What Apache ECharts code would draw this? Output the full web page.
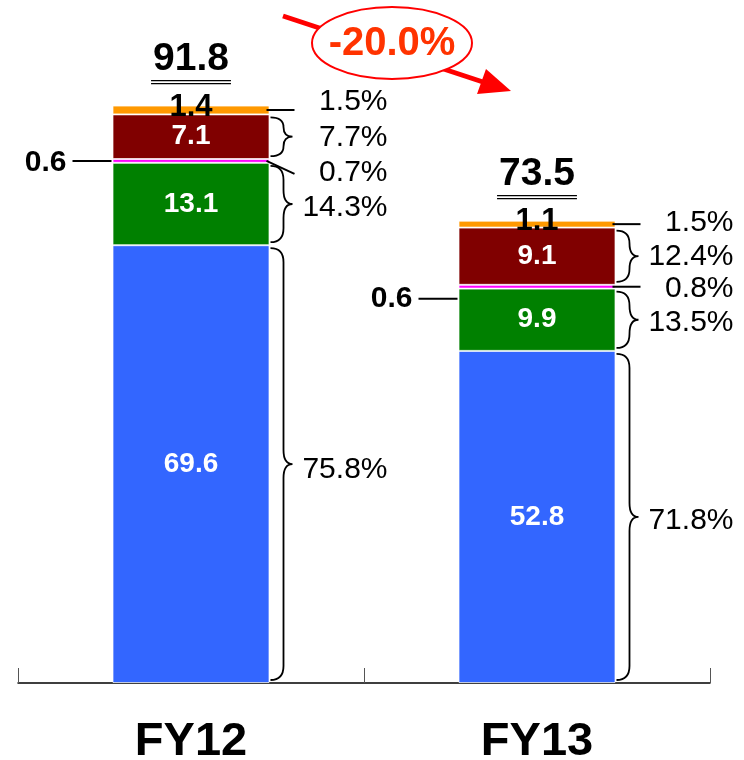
<!DOCTYPE html>
<html lang="en">
<head>
<meta charset="utf-8">
<title>FY12 / FY13</title>
<script src="https://cdn.jsdelivr.net/npm/echarts@6/dist/echarts.min.js"></script>
<style>
    html, body { height: 100%; margin: 0; background: #fff; }
    #main { width: 744px; height: 760px; }
</style>
</head>
<body>
<div id="main"></div>
<script>
    // data
    var categories = ['FY12', 'FY13'];
    var blueValues = [69.6, 52.8];
    var greenValues = [13.1, 9.9];
    var magentaValues = [0.6, 0.6];
    var redValues = [7.1, 9.1];
    var orangeValues = [1.4, 1.1];
    var totals = [91.8, 73.5];
    var blueShare = ['75.8%', '71.8%'];
    var greenShare = ['14.3%', '13.5%'];
    var magentaShare = ['0.7%', '0.8%'];
    var redShare = ['7.7%', '12.4%'];
    var orangeShare = ['1.5%', '1.5%'];
    var changeText = '-20.0%';

    var FONT = '"Liberation Sans", Arial, sans-serif';
    var BAR_W = 157;

    // stack order bottom -> top, with how each segment is annotated on the right
    var segments = [
        { values: blueValues, share: blueShare, kind: 'brace', labelDy: [6, 4] },
        { values: greenValues, share: greenShare, kind: 'brace', labelDy: [4, 3] },
        { values: magentaValues, share: magentaShare, kind: 'line', labelDy: [12, 2], endDy: [13, 0], leftDy: [0, 12] },
        { values: redValues, share: redShare, kind: 'brace', labelDy: [1, 1] },
        { values: orangeValues, share: orangeShare, kind: 'line', labelDy: [-8, -1], endDy: [0, 0] }
    ];

    // annotation items: [categoryIndex, low, high] + meta
    var annoData = [];
    var annoMeta = [];
    categories.forEach(function (c, i) {
        var base = 0;
        segments.forEach(function (s) {
            var v = s.values[i];
            annoData.push([i, base, base + v]);
            annoMeta.push({
                text: s.share[i], kind: s.kind,
                labelDy: s.labelDy[i],
                endDy: s.endDy ? s.endDy[i] : 0,
                leftDy: s.leftDy ? s.leftDy[i] : null
            });
            base += v;
        });
    });

    function bracePath(x, y0, y1, d, w) {
        var ym = (y0 + y1) / 2;
        var r = Math.min(14, (y1 - y0) / 4);
        return 'M' + x + ',' + y0 +
            ' Q' + (x + d) + ',' + y0 + ' ' + (x + d) + ',' + (y0 + r) +
            ' L' + (x + d) + ',' + (ym - r) +
            ' Q' + (x + d) + ',' + ym + ' ' + (x + w) + ',' + ym +
            ' Q' + (x + d) + ',' + ym + ' ' + (x + d) + ',' + (ym + r) +
            ' L' + (x + d) + ',' + (y1 - r) +
            ' Q' + (x + d) + ',' + y1 + ' ' + x + ',' + y1;
    }

    function renderAnno(params, api) {
        var meta = annoMeta[params.dataIndex];
        var idx = api.value(0);
        var pLow = api.coord([idx, api.value(1)]);
        var pHigh = api.coord([idx, api.value(2)]);
        var xr = pLow[0] + BAR_W / 2;
        var xl = pLow[0] - BAR_W / 2;
        var yTop = pHigh[1], yBot = pLow[1], yMid = (yTop + yBot) / 2;
        var children = [];
        if (meta.kind === 'brace') {
            children.push({
                type: 'path',
                shape: { pathData: bracePath(xr + 1, yTop + 3, yBot - 3, 13, 22) },
                style: { fill: null, stroke: '#000', lineWidth: 1.8 }
            });
        } else {
            children.push({
                type: 'line',
                shape: { x1: xr - 3, y1: yMid, x2: xr + 25, y2: yMid + meta.endDy },
                style: { stroke: '#000', lineWidth: 2 }
            });
        }
        if (meta.leftDy !== null) {
            children.push({
                type: 'line',
                shape: { x1: xl - 40, y1: yMid + meta.leftDy, x2: xl - 1, y2: yMid + meta.leftDy },
                style: { stroke: '#000', lineWidth: 2 }
            });
        }
        children.push({
            type: 'text',
            style: {
                text: meta.text, x: xr + 118, y: yMid + meta.labelDy,
                textAlign: 'right', textVerticalAlign: 'middle',
                align: 'right', verticalAlign: 'middle',
                font: '30px ' + FONT, fill: '#000'
            }
        });
        return { type: 'group', children: children };
    }

    var measureCtx = document.createElement('canvas').getContext('2d');
    function renderTotal(params, api) {
        var p = api.coord([api.value(0), api.value(1)]);
        var txt = api.value(1).toFixed(1);
        var font = 'bold 39px ' + FONT;
        measureCtx.font = font;
        var w = measureCtx.measureText(txt).width + 4;
        var yu = p[1] - 25;
        return {
            type: 'group',
            children: [
                {
                    type: 'text',
                    style: {
                        text: txt, x: p[0], y: p[1] - 46,
                        textAlign: 'center', textVerticalAlign: 'middle',
                        align: 'center', verticalAlign: 'middle',
                        font: font, fill: '#000'
                    }
                },
                { type: 'line', shape: { x1: p[0] - w / 2, y1: yu, x2: p[0] + w / 2, y2: yu }, style: { stroke: '#000', lineWidth: 1.3 } },
                { type: 'line', shape: { x1: p[0] - w / 2, y1: yu + 3, x2: p[0] + w / 2, y2: yu + 3 }, style: { stroke: '#000', lineWidth: 1.3 } }
            ]
        };
    }

    function barSeries(name, values, color, label) {
        return {
            name: name,
            type: 'bar',
            stack: 'total',
            barWidth: BAR_W,
            data: values,
            itemStyle: { color: color, borderColor: 'rgba(255,255,255,0.7)', borderWidth: 1 },
            label: label
        };
    }

    var whiteLabel = {
        show: true, position: 'inside', color: '#fff',
        fontWeight: 'bold', fontSize: 28, fontFamily: FONT
    };

    var myChart = echarts.init(document.getElementById('main'));

    var option = {
        animation: false,
        grid: { left: 18, right: 34, top: 54, bottom: 77, outerBoundsMode: 'none', containLabel: false },
        xAxis: {
            type: 'category',
            data: categories,
            axisLine: { lineStyle: { color: '#000', width: 1.5 } },
            axisTick: { show: true, inside: true, length: 15, lineStyle: { color: '#555', width: 1 } },
            axisLabel: { color: '#000', fontWeight: 'bold', fontSize: 47, fontFamily: FONT, margin: 36 }
        },
        yAxis: { type: 'value', min: 0, max: 100, show: false },
        series: [
            barSeries('blue', blueValues, '#3366FF', whiteLabel),
            barSeries('green', greenValues, '#008000', whiteLabel),
            barSeries('magenta', magentaValues.map(function (v, i) {
                return { value: v, label: { offset: [0, i === 0 ? 2 : 12] } };
            }), '#FF00FF', {
                show: true, position: 'left', distance: 46, color: '#000',
                fontWeight: 'bold', fontSize: 30, fontFamily: FONT
            }),
            barSeries('red', redValues, '#800000', whiteLabel),
            barSeries('orange', orangeValues, '#FF9900', {
                show: true, position: 'inside', color: '#000', offset: [0, -3],
                fontWeight: 'bold', fontSize: 31, fontFamily: FONT
            }),
            {
                type: 'custom',
                renderItem: renderAnno,
                encode: { x: 0, y: [1, 2] },
                data: annoData,
                z: 5
            },
            {
                type: 'custom',
                renderItem: renderTotal,
                encode: { x: 0, y: 1 },
                data: totals.map(function (t, i) { return [i, t]; }),
                z: 5
            }
        ],
        graphic: [
            { type: 'line', shape: { x1: 283, y1: 16, x2: 483, y2: 82 }, style: { stroke: '#FF0000', lineWidth: 5 } },
            { type: 'polygon', shape: { points: [[511, 91], [477, 94], [486, 69]] }, style: { fill: '#FF0000' } },
            { type: 'ellipse', shape: { cx: 392, cy: 43, rx: 80, ry: 36 }, style: { fill: '#fff', stroke: '#FF0000', lineWidth: 2 } },
            {
                type: 'text', x: 392, y: 44,
                style: {
                    text: changeText, font: 'bold 40px ' + FONT, fill: '#FF3300',
                    textAlign: 'center', textVerticalAlign: 'middle',
                    align: 'center', verticalAlign: 'middle'
                }
            }
        ]
    };

    myChart.setOption(option);
</script>
</body>
</html>
